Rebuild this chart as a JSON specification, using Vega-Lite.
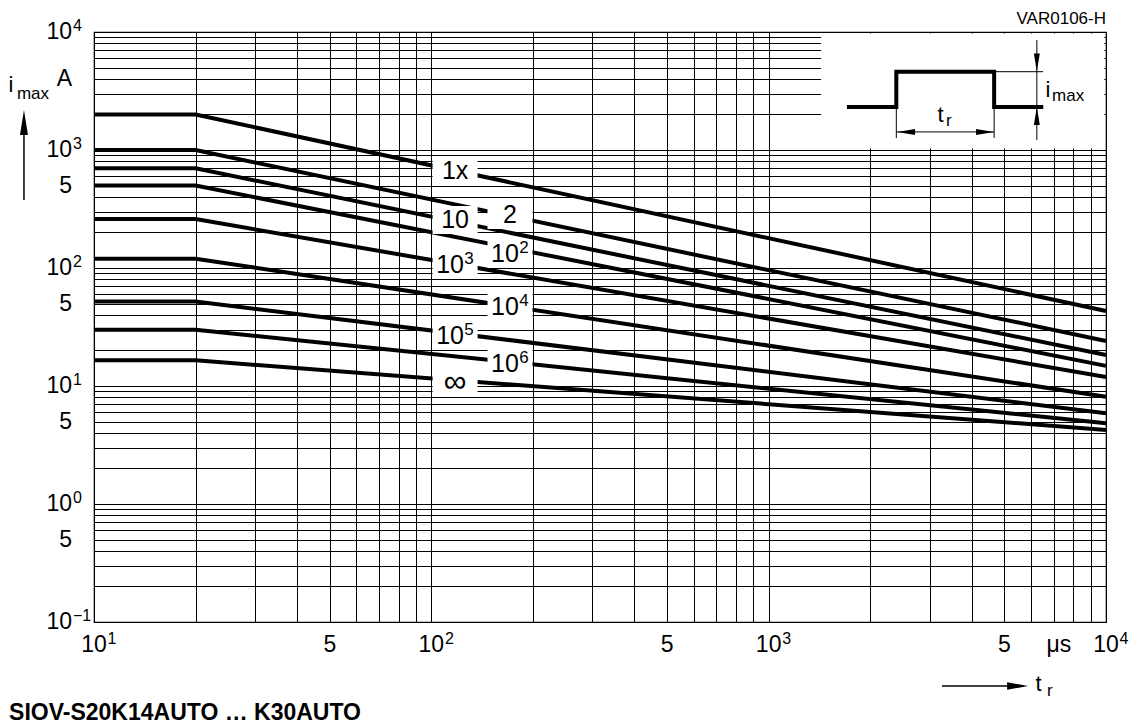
{
  "$schema": "https://vega.github.io/schema/vega-lite/v6.json",
  "width": 1012,
  "height": 590,
  "autosize": {"type": "none"},
  "padding": {"left": 94, "top": 32, "right": 27, "bottom": 106},
  "background": "white",
  "config": {
    "font": "Liberation Sans",
    "view": {"stroke": "#000", "strokeWidth": 1.2},
    "axis": {"grid": true, "gridColor": "#000", "gridOpacity": 1, "gridWidth": 1, "labels": false, "ticks": false, "domain": false}
  },
  "datasets": {
    "curves": [
      {"n": "1x", "t": 10, "i": 2000}, {"n": "1x", "t": 20, "i": 2000}, {"n": "1x", "t": 10000, "i": 43.2},
      {"n": "2", "t": 10, "i": 1000}, {"n": "2", "t": 20, "i": 1000}, {"n": "2", "t": 10000, "i": 24.1},
      {"n": "10", "t": 10, "i": 700}, {"n": "10", "t": 20, "i": 700}, {"n": "10", "t": 10000, "i": 18.3},
      {"n": "1e2", "t": 10, "i": 500}, {"n": "1e2", "t": 20, "i": 500}, {"n": "1e2", "t": 10000, "i": 14.8},
      {"n": "1e3", "t": 10, "i": 260}, {"n": "1e3", "t": 20, "i": 260}, {"n": "1e3", "t": 10000, "i": 11.9},
      {"n": "1e4", "t": 10, "i": 120}, {"n": "1e4", "t": 20, "i": 120}, {"n": "1e4", "t": 10000, "i": 8.1},
      {"n": "1e5", "t": 10, "i": 52}, {"n": "1e5", "t": 20, "i": 52}, {"n": "1e5", "t": 10000, "i": 5.87},
      {"n": "1e6", "t": 10, "i": 30}, {"n": "1e6", "t": 20, "i": 30}, {"n": "1e6", "t": 10000, "i": 4.83},
      {"n": "inf", "t": 10, "i": 16.5}, {"n": "inf", "t": 20, "i": 16.5}, {"n": "inf", "t": 10000, "i": 4.24}
    ],
    "curveLabels": [
      {"lab": "1x", "exp": "", "t": 117.6, "i": 664},
      {"lab": "2", "exp": "", "t": 171.1, "i": 281},
      {"lab": "10", "exp": "", "t": 117.6, "i": 255},
      {"lab": "10", "exp": "2", "t": 171.1, "i": 131.5},
      {"lab": "10", "exp": "3", "t": 117.6, "i": 106},
      {"lab": "10", "exp": "4", "t": 171.1, "i": 46.3},
      {"lab": "10", "exp": "5", "t": 117.6, "i": 26.5},
      {"lab": "10", "exp": "6", "t": 171.1, "i": 15.4},
      {"lab": "∞", "exp": "", "t": 117.6, "i": 11.0}
    ],
    "xTicks": [
      {"t": 10, "i": 0.1, "base": "10", "exp": "1"},
      {"t": 50, "i": 0.1, "base": "5", "exp": ""},
      {"t": 100, "i": 0.1, "base": "10", "exp": "2"},
      {"t": 500, "i": 0.1, "base": "5", "exp": ""},
      {"t": 1000, "i": 0.1, "base": "10", "exp": "3"},
      {"t": 5000, "i": 0.1, "base": "5", "exp": ""},
      {"t": 7250, "i": 0.1, "base": "μs", "exp": ""},
      {"t": 10000, "i": 0.1, "base": "10", "exp": "4"}
    ],
    "yTicks": [
      {"t": 10, "i": 10000, "base": "10", "exp": "4"},
      {"t": 10, "i": 4000, "base": "A", "exp": ""},
      {"t": 10, "i": 1000, "base": "10", "exp": "3"},
      {"t": 10, "i": 500, "base": "5", "exp": ""},
      {"t": 10, "i": 100, "base": "10", "exp": "2"},
      {"t": 10, "i": 50, "base": "5", "exp": ""},
      {"t": 10, "i": 10, "base": "10", "exp": "1"},
      {"t": 10, "i": 5, "base": "5", "exp": ""},
      {"t": 10, "i": 1, "base": "10", "exp": "0"},
      {"t": 10, "i": 0.5, "base": "5", "exp": ""},
      {"t": 10, "i": 0.1, "base": "10", "exp": "−1"}
    ],
    "insetBox": [{"t": 1430, "t2": 9890, "i": 1030, "i2": 9700}],
    "axisArrows": [
      {"t": 6.2, "t2": 6.2, "i": 377, "i2": 1500},
      {"t": 3266, "t2": 5200, "i": 0.0287, "i2": 0.0287}
    ],
    "thinLines": [
      {"t": 2390, "t2": 4660, "i": 1423, "i2": 1423},
      {"t": 2390, "t2": 2390, "i": 1265, "i2": 2312},
      {"t": 4660, "t2": 4660, "i": 1265, "i2": 2312},
      {"t": 6237, "t2": 6237, "i": 1216, "i2": 8552},
      {"t": 4660, "t2": 6509, "i": 4609, "i2": 4609}
    ],
    "bigHeads": [
      {"t": 6.2, "i": 1710, "dir": "up"}
    ],
    "midHeads": [
      {"t": 5470, "i": 0.0287, "dir": "right"}
    ],
    "smallHeads": [
      {"t": 2555, "i": 1423, "dir": "left"},
      {"t": 4381, "i": 1423, "dir": "right"},
      {"t": 6237, "i": 5520, "dir": "down"},
      {"t": 6237, "i": 1941, "dir": "up"}
    ],
    "pulse": [
      {"k": 0, "t": 1706, "i": 2312},
      {"k": 1, "t": 2390, "i": 2312},
      {"k": 2, "t": 2390, "i": 4609},
      {"k": 3, "t": 4660, "i": 4609},
      {"k": 4, "t": 4660, "i": 2312},
      {"k": 5, "t": 6517, "i": 2312}
    ],
    "bigText": [
      {"t": 5.58, "i": 3524, "txt": "i"},
      {"t": 6184, "i": 0.0301, "txt": "t"},
      {"t": 6622, "i": 3219, "txt": "i"},
      {"t": 3168, "i": 1982, "txt": "t"}
    ],
    "smallText": [
      {"t": 5.91, "i": 2985, "txt": "max"},
      {"t": 6690, "i": 0.026, "txt": "r"},
      {"t": 6921, "i": 2873, "txt": "max"},
      {"t": 3357, "i": 1762, "txt": "r"}
    ],
    "code": [{"t": 10000, "i": 12890, "txt": "VAR0106-H"}],
    "title": [{"t": 5.6, "i": 0.01694, "txt": "SIOV-S20K14AUTO … K30AUTO"}]
  },
  "encoding": {
    "x": {
      "field": "t", "type": "quantitative",
      "scale": {"type": "log", "domain": [10, 10000], "nice": false, "zero": false},
      "axis": {"title": null, "values": [10,20,30,40,50,60,70,80,90,100,200,300,400,500,600,700,800,900,1000,2000,3000,4000,5000,6000,7000,8000,9000,10000]}
    },
    "y": {
      "field": "i", "type": "quantitative",
      "scale": {"type": "log", "domain": [0.1, 10000], "nice": false, "zero": false},
      "axis": {"title": null, "values": [0.1,0.2,0.3,0.4,0.5,0.6,0.7,0.8,0.9,1,2,3,4,5,6,7,8,9,10,20,30,40,50,60,70,80,90,100,200,300,400,500,600,700,800,900,1000,2000,3000,4000,5000,6000,7000,8000,9000,10000]}
    }
  },
  "layer": [
    {
      "data": {"name": "insetBox"},
      "mark": {"type": "rect", "fill": "white", "stroke": null},
      "encoding": {"x2": {"field": "t2"}, "y2": {"field": "i2"}}
    },
    {
      "data": {"name": "curves"},
      "mark": {"type": "line", "color": "#000", "strokeWidth": 4, "strokeJoin": "round"},
      "encoding": {"detail": {"field": "n", "type": "nominal"}}
    },
    {
      "data": {"name": "curveLabels"},
      "mark": {"type": "point", "filled": true, "fill": "white", "opacity": 1, "strokeWidth": 0, "shape": "M-1,-0.62H1V0.62H-1Z", "size": 2025},
      "encoding": {}
    },
    {
      "data": {"name": "curveLabels"},
      "transform": [{"filter": "datum.exp === '' && datum.lab !== '∞'"}],
      "mark": {"type": "text", "fontSize": 25, "align": "center", "baseline": "middle", "color": "#000"},
      "encoding": {"text": {"field": "lab"}}
    },
    {
      "data": {"name": "curveLabels"},
      "transform": [{"filter": "datum.lab === '∞'"}],
      "mark": {"type": "text", "fontSize": 32, "align": "center", "baseline": "middle", "dy": 1, "color": "#000"},
      "encoding": {"text": {"field": "lab"}}
    },
    {
      "data": {"name": "curveLabels"},
      "transform": [{"filter": "datum.exp !== ''"}],
      "mark": {"type": "text", "fontSize": 25, "align": "center", "baseline": "middle", "dx": -5, "color": "#000"},
      "encoding": {"text": {"field": "lab"}}
    },
    {
      "data": {"name": "curveLabels"},
      "transform": [{"filter": "datum.exp !== ''"}],
      "mark": {"type": "text", "fontSize": 17, "align": "center", "baseline": "middle", "dx": 14, "dy": -6, "color": "#000"},
      "encoding": {"text": {"field": "exp"}}
    },
    {
      "data": {"name": "xTicks"},
      "mark": {"type": "text", "fontSize": 23, "align": "center", "baseline": "middle", "dy": 23, "color": "#000"},
      "encoding": {"text": {"field": "base"}}
    },
    {
      "data": {"name": "xTicks"},
      "transform": [{"filter": "datum.exp !== ''"}],
      "mark": {"type": "text", "fontSize": 16, "align": "center", "baseline": "middle", "dx": 18, "dy": 17, "color": "#000"},
      "encoding": {"text": {"field": "exp"}}
    },
    {
      "data": {"name": "yTicks"},
      "mark": {"type": "text", "fontSize": 23, "align": "right", "baseline": "middle", "dx": -22, "color": "#000"},
      "encoding": {"text": {"field": "base"}}
    },
    {
      "data": {"name": "yTicks"},
      "transform": [{"filter": "datum.exp !== ''"}],
      "mark": {"type": "text", "fontSize": 16, "align": "left", "baseline": "middle", "dx": -21, "dy": -6, "color": "#000"},
      "encoding": {"text": {"field": "exp"}}
    },
    {
      "data": {"name": "axisArrows"},
      "mark": {"type": "rule", "color": "#000", "strokeWidth": 1.5},
      "encoding": {"x2": {"field": "t2"}, "y2": {"field": "i2"}}
    },
    {
      "data": {"name": "thinLines"},
      "mark": {"type": "rule", "color": "#000", "strokeWidth": 1},
      "encoding": {"x2": {"field": "t2"}, "y2": {"field": "i2"}}
    },
    {
      "data": {"name": "bigHeads"},
      "mark": {"type": "point", "filled": true, "color": "#000", "opacity": 1, "size": 625, "shape": "M0,-1L0.32,1L-0.32,1Z"},
      "encoding": {}
    },
    {
      "data": {"name": "midHeads"},
      "mark": {"type": "point", "filled": true, "color": "#000", "opacity": 1, "size": 441, "shape": "M1,0L-1,-0.36L-1,0.36Z"},
      "encoding": {}
    },
    {
      "data": {"name": "smallHeads"},
      "mark": {"type": "point", "filled": true, "color": "#000", "opacity": 1, "size": 324},
      "encoding": {
        "shape": {
          "field": "dir", "type": "nominal", "legend": null,
          "scale": {"domain": ["up", "down", "left", "right"], "range": ["M0,-1L0.33,1L-0.33,1Z", "M0,1L0.33,-1L-0.33,-1Z", "M-1,0L1,-0.33L1,0.33Z", "M1,0L-1,-0.33L-1,0.33Z"]}
        }
      }
    },
    {
      "data": {"name": "pulse"},
      "mark": {"type": "line", "color": "#000", "strokeWidth": 4, "strokeJoin": "miter", "strokeCap": "butt"},
      "encoding": {"order": {"field": "k", "type": "quantitative"}}
    },
    {
      "data": {"name": "bigText"},
      "mark": {"type": "text", "fontSize": 22, "align": "left", "baseline": "middle", "color": "#000"},
      "encoding": {"text": {"field": "txt"}}
    },
    {
      "data": {"name": "smallText"},
      "mark": {"type": "text", "fontSize": 17, "align": "left", "baseline": "middle", "color": "#000"},
      "encoding": {"text": {"field": "txt"}}
    },
    {
      "data": {"name": "code"},
      "mark": {"type": "text", "fontSize": 17, "align": "right", "baseline": "middle", "color": "#000"},
      "encoding": {"text": {"field": "txt"}}
    },
    {
      "data": {"name": "title"},
      "mark": {"type": "text", "fontSize": 23, "fontWeight": "bold", "align": "left", "baseline": "middle", "color": "#000"},
      "encoding": {"text": {"field": "txt"}}
    }
  ]
}
